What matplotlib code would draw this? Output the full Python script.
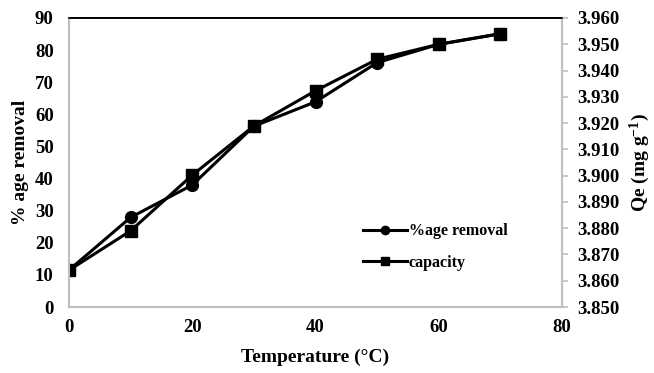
import matplotlib
matplotlib.use("Agg")
import matplotlib.pyplot as plt
from matplotlib.lines import Line2D

temperature = [0, 10, 20, 30, 40, 50, 60, 70]
removal = [11.5, 27.9, 38.0, 56.3, 63.9, 76.1, 81.8, 85.1]
capacity = [3.8640, 3.8790, 3.9002, 3.9189, 3.9323, 3.9443, 3.9500, 3.9540]
x_ticks = [0, 20, 40, 60, 80]
left_ticks = list(range(0, 91, 10))
right_ticks = [3.850, 3.860, 3.870, 3.880, 3.890, 3.900, 3.910, 3.920, 3.930, 3.940, 3.950, 3.960]

plt.rcParams['font.family'] = ['Liberation Serif', 'DejaVu Serif']
plt.rcParams['font.weight'] = 'bold'
plt.rcParams['mathtext.default'] = 'regular'

fig = plt.figure(figsize=(6.54, 3.73), dpi=100)
ax = fig.add_axes([69/654, 1-307/373, (562-69)/654, (307-18)/373])
ax2 = ax.twinx()

grey = '#bfbfbf'
ax.plot(temperature, removal, color='black', lw=2.2, marker='o', ms=8.5, label='%age removal')
ax2.plot(temperature, capacity, color='black', lw=2.2, marker='s', ms=8.5, label='capacity')

ax.set_xlim(0, 80)
ax.set_ylim(0, 90)
ax2.set_ylim(3.850, 3.960)
ax.set_xticks(x_ticks)
ax.set_yticks(left_ticks)
ax2.set_yticks(right_ticks)
ax2.set_yticklabels([f"{v:.3f}" for v in right_ticks])

for a in (ax, ax2):
    for s in ['left', 'right', 'bottom']:
        a.spines[s].set_color(grey)
        a.spines[s].set_linewidth(1.5)
    a.spines['top'].set_color('black')
    a.spines['top'].set_linewidth(1.2)

ax.tick_params(axis='y', length=0, labelsize=13.5, pad=11)
ax.tick_params(axis='x', length=0, labelsize=13.5, pad=9)
ax2.tick_params(axis='y', length=4, color=grey, width=1.2, labelsize=13.5, pad=7)

ax.set_xlabel('Temperature (°C)', fontsize=14, fontweight='bold', labelpad=9)
ax.set_ylabel('% age removal', fontsize=14, fontweight='bold', labelpad=4)
ax2.set_ylabel('Qe (mg g$^{-1}$)', fontsize=14, fontweight='bold', labelpad=6)

handles = [Line2D([], [], color='black', lw=2.2, marker='o', ms=6),
           Line2D([], [], color='black', lw=2.2, marker='s', ms=6)]
ax.legend(handles, ['%age removal', 'capacity'], loc='upper left',
          bbox_to_anchor=((357-69)/(562-69), (307-217)/(307-18)),
          frameon=False, fontsize=11.5, handlelength=2.7, handletextpad=0.15,
          labelspacing=0.95, borderaxespad=0)

fig.savefig('out.png', dpi=100)
